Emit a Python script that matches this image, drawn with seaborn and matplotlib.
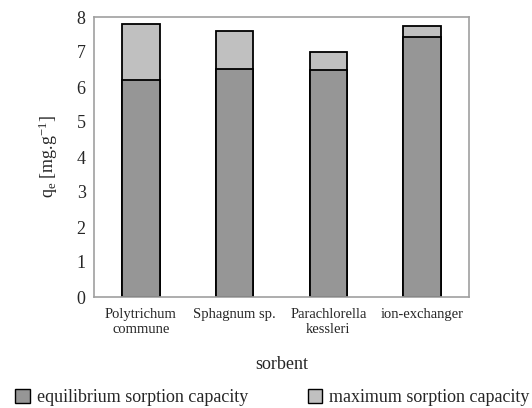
import pandas as pd
import seaborn as sns
import matplotlib.pyplot as plt
from matplotlib.patches import Patch

# data
sorbents = ['Polytrichum\ncommune', 'Sphagnum sp.', 'Parachlorella\nkessleri', 'ion-exchanger']
equilibrium = [6.2, 6.51, 6.49, 7.44]
maximum = [7.8, 7.61, 6.99, 7.73]

df = pd.DataFrame({'sorbent': sorbents, 'equilibrium': equilibrium, 'maximum': maximum})

sns.set_style('white')
plt.rcParams['font.family'] = ['Liberation Serif', 'DejaVu Serif']
plt.rcParams['mathtext.fontset'] = 'custom'
plt.rcParams['mathtext.rm'] = 'Liberation Serif'
plt.rcParams['mathtext.it'] = 'Liberation Serif'

col_eq = '#969696'
col_max = '#c0c0c0'

fig = plt.figure(figsize=(5.32, 4.08), dpi=100)
ax = fig.add_axes([94 / 532, 1 - 297 / 408, 375 / 532, 280 / 408])

# maximum capacity drawn full height, equilibrium overlaid from the base
sns.barplot(data=df, x='sorbent', y='maximum', color=col_max, saturation=1,
            width=0.4, edgecolor='black', linewidth=1.3, ax=ax)
sns.barplot(data=df, x='sorbent', y='equilibrium', color=col_eq, saturation=1,
            width=0.4, edgecolor='black', linewidth=1.3, ax=ax)

ax.set_ylim(0, 8)
ax.set_xlim(-0.5, 3.5)
ax.set_yticks(range(0, 9))
ax.tick_params(axis='y', labelsize=13, length=0, pad=6)
ax.tick_params(axis='x', labelsize=10.5, length=0, pad=8)
for s in ax.spines.values():
    s.set_color('#a0a0a0')
    s.set_linewidth(1.2)

ax.set_xlabel('sorbent', fontsize=13, labelpad=14)
ax.set_ylabel(r'q$_\mathrm{e}$ [mg.g$^{\mathrm{-1}}$]', fontsize=13, labelpad=12)

handles = [Patch(facecolor=col_eq, edgecolor='black', label='equilibrium sorption capacity'),
           Patch(facecolor=col_max, edgecolor='black', label='maximum sorption capacity')]
fig.legend(handles=handles, loc='lower left', bbox_to_anchor=(0.015, -0.014), ncol=2,
           frameon=False, fontsize=13, handlelength=0.8, handleheight=0.8,
           handletextpad=0.4, columnspacing=3.3, borderaxespad=0)

fig.savefig('out.png', dpi=100)
